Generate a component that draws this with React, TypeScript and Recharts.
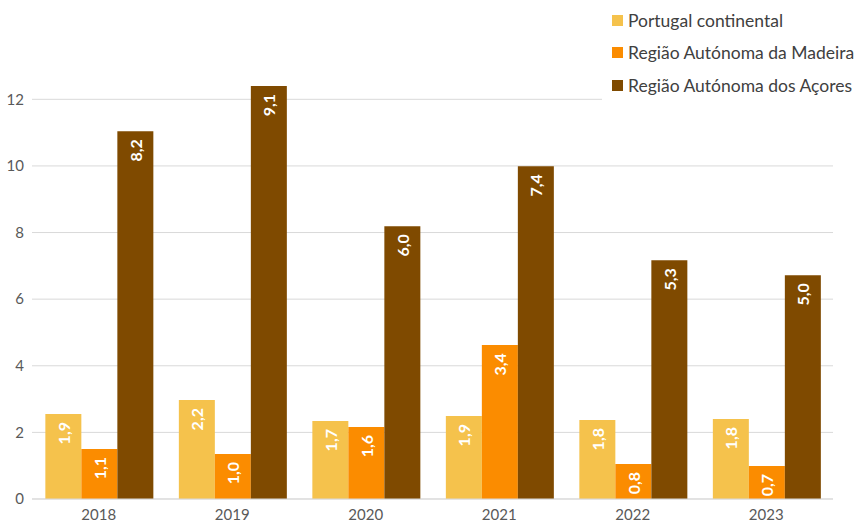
import React from 'react';
import { BarChart, Bar, XAxis, YAxis, CartesianGrid, LabelList } from 'recharts';

const years = ['2018', '2019', '2020', '2021', '2022', '2023'];

// bar heights as drawn in the picture
const continente = [2.55, 2.97, 2.34, 2.49, 2.37, 2.4];
const madeira = [1.5, 1.35, 2.16, 4.62, 1.05, 0.99];
const acores = [11.04, 12.4, 8.19, 9.99, 7.17, 6.72];

// printed value labels
const continenteLabels = ['1,9', '2,2', '1,7', '1,9', '1,8', '1,8'];
const madeiraLabels = ['1,1', '1,0', '1,6', '3,4', '0,8', '0,7'];
const acoresLabels = ['8,2', '9,1', '6,0', '7,4', '5,3', '5,0'];

const yTicks = [0, 2, 4, 6, 8, 10, 12];

const series = [
  { key: 'continente', name: 'Portugal continental', color: '#F5C24C', labels: continenteLabels },
  { key: 'madeira', name: 'Região Autónoma da Madeira', color: '#FB8C00', labels: madeiraLabels },
  { key: 'acores', name: 'Região Autónoma dos Açores', color: '#7F4A00', labels: acoresLabels },
];

const data = years.map((year, i) => ({
  year,
  continente: continente[i],
  madeira: madeira[i],
  acores: acores[i],
}));

const FONT = 'Lato, "Open Sans", sans-serif';

const makeLabel = (labels: string[]) => (props: any) => {
  const { x, y, width, index } = props;
  const cx = x + width / 2;
  const ty = y + 8;
  return (
    <text
      x={cx}
      y={ty}
      transform={`rotate(-90, ${cx}, ${ty})`}
      textAnchor="end"
      dominantBaseline="central"
      fill="#ffffff"
      fontSize={16}
      fontWeight={700}
      fontFamily={FONT}
    >
      {labels[index]}
    </text>
  );
};

export default function App() {
  return (
    <div style={{ position: 'absolute', left: 0, top: 0, width: 861, height: 526, background: '#fff', fontFamily: FONT }}>
      <BarChart
        width={861}
        height={526}
        data={data}
        margin={{ top: 66, right: 28, left: 0, bottom: 0 }}
        barCategoryGap="10%"
        barGap={0}
      >
        <CartesianGrid vertical={false} stroke="#d9d9d9" horizontalValues={yTicks} />
        <XAxis
          dataKey="year"
          height={27}
          tickLine={false}
          tickSize={0}
          tickMargin={10}
          axisLine={{ stroke: '#d9d9d9' }}
          tick={{ fill: '#595959', fontSize: 15, fontFamily: FONT }}
        />
        <YAxis
          width={32}
          domain={[0, 13]}
          ticks={yTicks}
          tickLine={false}
          tickSize={0}
          tickMargin={8}
          axisLine={false}
          tick={{ fill: '#595959', fontSize: 15, fontFamily: FONT }}
        />
        {series.map(s => (
          <Bar key={s.key} dataKey={s.key} name={s.name} fill={s.color} isAnimationActive={false}>
            <LabelList dataKey={s.key} content={makeLabel(s.labels)} />
          </Bar>
        ))}
      </BarChart>
      <div
        style={{
          position: 'absolute',
          left: 602,
          top: 4,
          width: 259,
          height: 96,
          background: '#fff',
        }}
      >
        {series.map((s, i) => (
          <div
            key={s.key}
            style={{
              position: 'absolute',
              left: 10,
              top: 6 + i * 32.5,
              display: 'flex',
              alignItems: 'center',
              height: 20,
              whiteSpace: 'nowrap',
            }}
          >
            <span style={{ width: 11, height: 11, background: s.color, display: 'inline-block', marginRight: 5 }} />
            <span style={{ fontSize: 17.5, color: '#404040' }}>{s.name}</span>
          </div>
        ))}
      </div>
    </div>
  );
}
